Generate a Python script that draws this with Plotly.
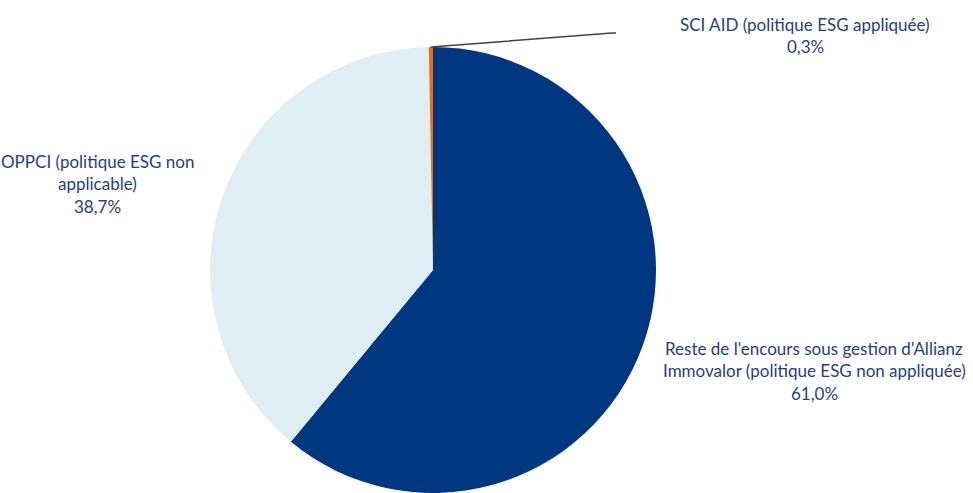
import math
import plotly.graph_objects as go

labels = ["Reste de l'encours sous gestion d'Allianz Immovalor (politique ESG non appliquée)",
          "OPPCI (politique ESG non applicable)",
          "SCI AID (politique ESG appliquée)"]
values = [61.0, 38.7, 0.3]
value_text = ["61,0%", "38,7%", "0,3%"]
label_lines = [["Reste de l'encours sous gestion d'Allianz", "Immovalor (politique ESG non appliquée)"],
               ["OPPCI (politique ESG non", "applicable)"],
               ["SCI AID (politique ESG appliquée)"]]
colors = ["#003781", "#DFEEF2", "#F26B10"]

W, H = 973, 493
TEXT = "#1F4080"
FONT = "Lato"

# pie geometry (pixels)
cx, cy, r = 433, 270, 223
dom_x = [(cx - r) / W, (cx + r) / W]
dom_y = [1 - (cy + r) / H, 1 - (cy - r) / H]

fig = go.Figure(go.Pie(
    labels=labels, values=values, sort=False, direction="clockwise", rotation=0,
    marker=dict(colors=colors, line=dict(width=0)),
    textinfo="none", hoverinfo="label+percent", showlegend=False,
    domain=dict(x=dom_x, y=dom_y),
))

# label anchors (centre x, first line y) in pixels
anchors = [(814, 348), (97, 161), (805, 24)]
step = 22.5
for lines, vt, (ax_, ay_) in zip(label_lines, value_text, anchors):
    for i, t in enumerate(lines + [vt]):
        fig.add_annotation(x=ax_ / W, y=1 - (ay_ + i * step) / H, xref="paper", yref="paper",
                           text=t, showarrow=False, xanchor="center", yanchor="middle",
                           font=dict(family=FONT, size=17, color=TEXT))

# leader line for the small slice
total = sum(values)
start = sum(values[:2]) / total * 360
mid = start + values[2] / total * 360 / 2
px = cx + r * math.sin(math.radians(mid))
py = cy - r * math.cos(math.radians(mid))
ex, ey = 612, 33
fig.add_shape(type="path", xref="paper", yref="paper",
              path=f"M {px / W} {1 - py / H} L {ex / W} {1 - ey / H} L {(ex + 4) / W} {1 - ey / H}",
              line=dict(color="#404040", width=1.5))

fig.update_layout(width=W, height=H, margin=dict(l=0, r=0, t=0, b=0),
                  paper_bgcolor="white", plot_bgcolor="white")
fig.write_html("out.html", config={"displayModeBar": False},
               post_script="document.body.style.margin='0';document.body.style.overflow='hidden';")
